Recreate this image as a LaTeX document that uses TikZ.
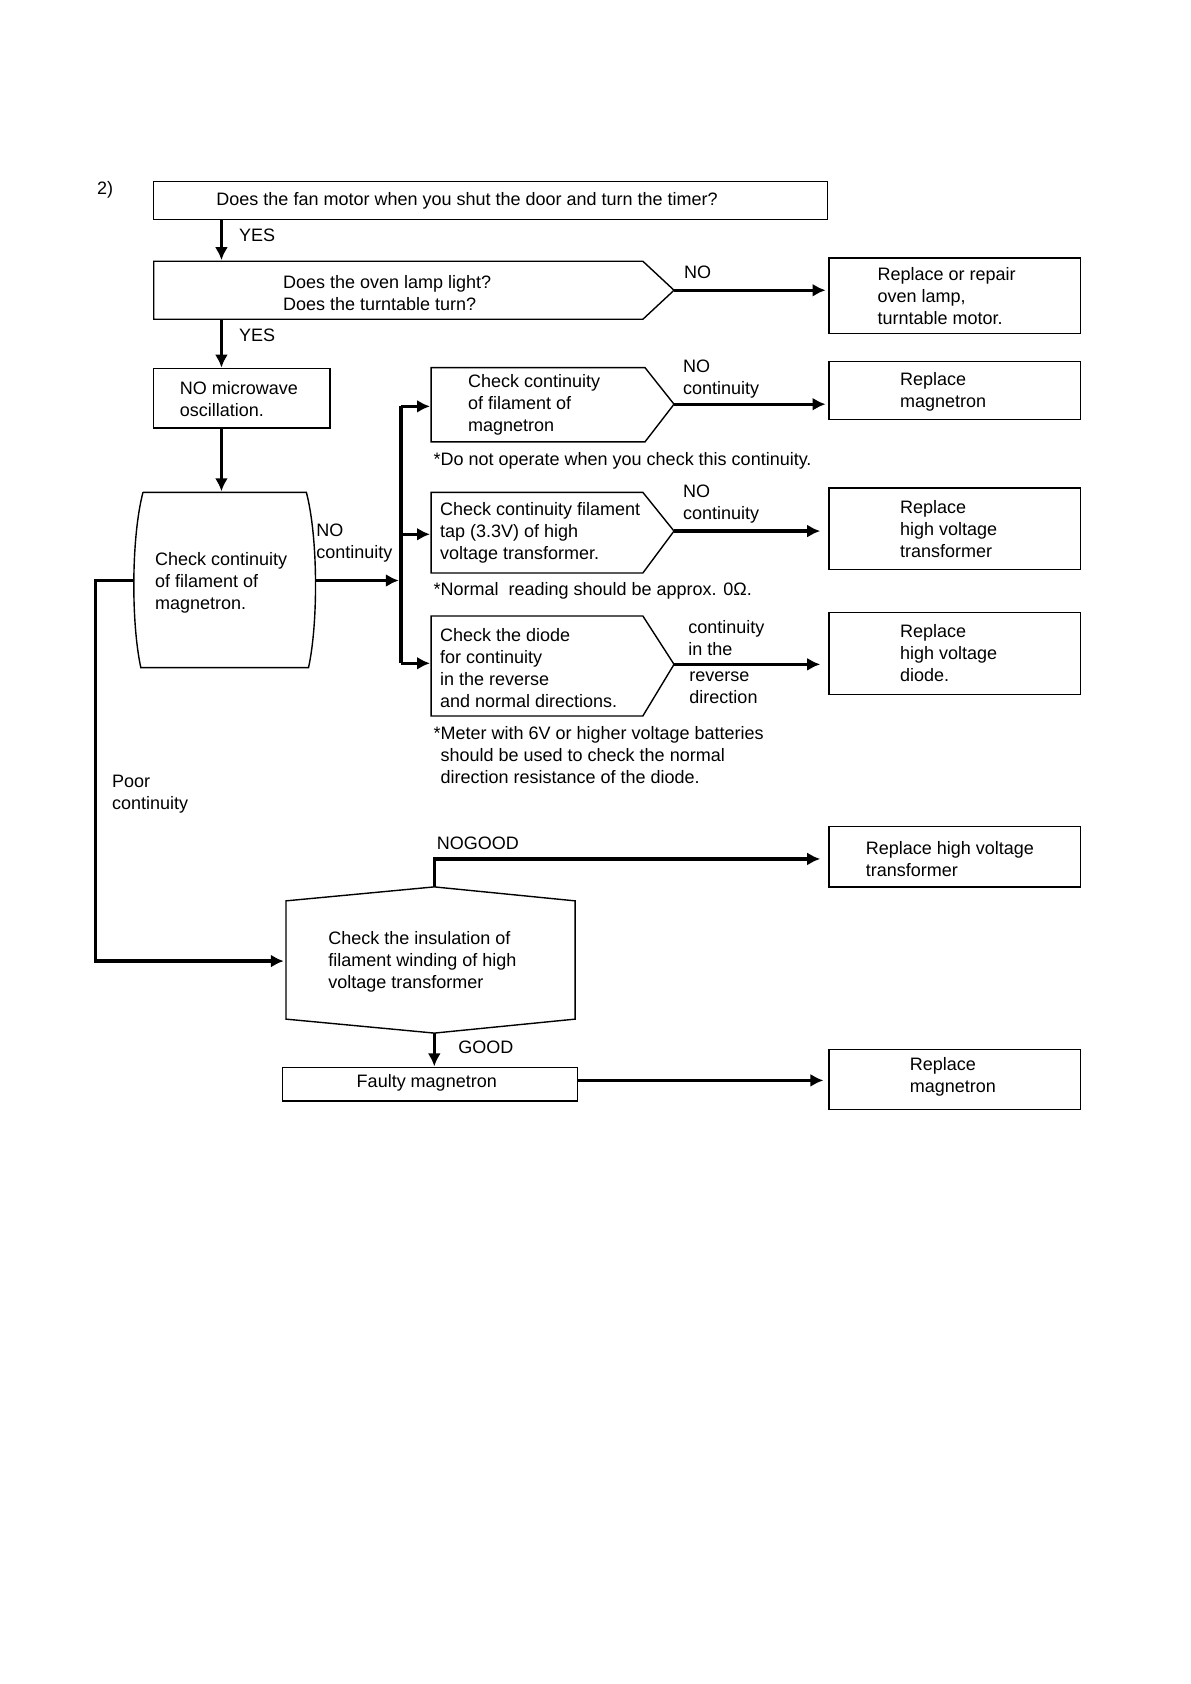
\documentclass[tikz,border=0pt]{standalone}
\usepackage{fontspec}
\setmainfont{Liberation Sans}
\usetikzlibrary{arrows.meta,calc}

\begin{document}
\begin{tikzpicture}[x=0.5375pt,y=-0.5375pt]
\tikzstyle{box} = [draw, line width=0.7pt]
\tikzstyle{txt} = [inner sep=0pt, anchor=west, align=left, font=\fontsize{9}{11}\selectfont]
\tikzstyle{arr} = [line width=1.6pt, -{Latex[length=6.5pt,width=6.5pt]}]
\useasboundingbox (0,0) rectangle (1107,1566.5);

\node[txt] (num) at (90,177) {2)};

% question boxes on the left
\draw[box] (143,169) rectangle (770,204);
\node[txt] (fan) at (201,187) {Does the fan motor when you shut the door and turn the timer?};
\draw[box] (143,243) -- (598,243) -- (627,270) -- (598,297) -- (143,297) -- cycle;
\node[txt] (lamp) at (263,272.5) {Does the oven lamp light?\\Does the turntable turn?};
\draw[box] (143,343) rectangle (307,398);
\node[txt] (nomw) at (167,371) {NO microwave\\oscillation.};
\draw[box] (133,458) -- (285,458) .. controls (296,500) and (296,580) .. (287,621)
  -- (131,621) .. controls (122,580) and (122,500) .. (133,458);
\node[txt] (fil) at (144,542) {Check continuity\\of filament of\\magnetron.};

\coordinate (fans) at (206,204);
\coordinate (lampn) at (206,242);
\coordinate (lamps) at (206,297);
\coordinate (nomwn) at (206,342);
\coordinate (nomws) at (206,398);
\coordinate (filn) at (206,457);
\coordinate (lampe) at (627,270);
\coordinate (filw) at (124,540);
\coordinate (file) at (294,540);

% three checks in the middle
\draw[box] (401,342) -- (600,342) -- (627,376) -- (600,411) -- (401,411) -- cycle;
\node[txt] (chka) at (435,376.5) {Check continuity\\of filament of\\magnetron};
\draw[box] (401,458) -- (598,458) -- (627,494) -- (598,533) -- (401,533) -- cycle;
\node[txt] (chkb) at (409,495.5) {Check continuity filament\\tap (3.3V) of high\\voltage transformer.};
\draw[box] (401,573) -- (598,573) -- (627,618) -- (598,666) -- (401,666) -- cycle;
\node[txt] (chkc) at (409,621) {Check the diode\\for continuity\\in the reverse\\and normal directions.};
\coordinate (chkae) at (627,376);
\coordinate (chkbe) at (627,494);
\coordinate (chkce) at (627,618);

\node[txt] (nota) at (403,429) {*Do not operate when you check this continuity.};
\node[txt] (notb) at (403,550) {*Normal\ \ reading should be approx. 0Ω.};
\node[txt] (notc) at (403,702.5) {*Meter with 6V or higher voltage batteries\\\phantom{*}should be used to check the normal\\\phantom{*}direction resistance of the diode.};

% lower checks
\draw[box] (266,838) -- (404,825) -- (535,838) -- (535,948) -- (404,961) -- (266,948) -- cycle;
\node[txt] (ins) at (305,894.5) {Check the insulation of\\filament winding of high\\voltage transformer};
\draw[box] (263,993) rectangle (537,1024);
\node[txt, anchor=center] (faulty) at (397,1007) {Faulty magnetron};
\coordinate (insn) at (404,825);
\coordinate (inss) at (404,961);
\coordinate (insw) at (264,894);
\coordinate (faultyn) at (404,992);
\coordinate (faultye) at (537,1005);

% replace boxes on the right
\draw[box] (771,240) rectangle (1005,310);
\node[txt] (rlamp) at (816,275.5) {Replace or repair\\oven lamp,\\turntable motor.};
\draw[box] (771,336) rectangle (1005,390);
\node[txt] (rmag) at (837,364.5) {Replace\\magnetron};
\draw[box] (771,454) rectangle (1005,530);
\node[txt] (rhvt) at (837,492) {Replace\\high voltage\\transformer};
\draw[box] (771,570) rectangle (1005,646);
\node[txt] (rdio) at (837,607.5) {Replace\\high voltage\\diode.};
\draw[box] (771,769) rectangle (1005,825);
\node[txt] (rins) at (805,799) {Replace high voltage\\transformer};
\draw[box] (771,976) rectangle (1005,1032);
\node[txt] (rfau) at (846,1002) {Replace\\magnetron};

% connectors
\draw[arr] (fans) -- (lampn);
\draw[arr] (lamps) -- (nomwn);
\draw[arr] (nomws) -- (filn);
\draw[arr] (lampe) -- (768,270);
\draw[arr] (file) -- (371,540);
\draw[line width=1.6pt] (373,378) -- (373,617);
\draw[arr] (373,378) -- (400,378);
\draw[arr] (373,497) -- (400,497);
\draw[arr] (373,617) -- (400,617);
\draw[arr] (chkae) -- (768,376);
\draw[arr] (chkbe) -- (763,494);
\draw[arr] (chkce) -- (763,618);
\draw[arr] (filw) -- (89,540) |- (insw);
\draw[arr] (insn) |- (763,799);
\draw[arr] (inss) -- (faultyn);
\draw[arr] (faultye) -- (766,1005);

% labels
\node[txt] (yesa) at (222,219) {YES};
\node[txt] (yesb) at (222,312) {YES};
\node[txt] (noa) at (636,253) {NO};
\node[txt] (nob) at (294,505.5) {NO\\continuity};
\node[txt] (noc) at (635,352.5) {NO\\continuity};
\node[txt] (nod) at (635,468.5) {NO\\continuity};
\node[txt] (cont) at (640,593.5) {continuity\\in the};
\node[txt] (rev) at (641,640) {reverse\\direction};
\node[txt] (poor) at (104,738.5) {Poor\\continuity};
\node[txt] (nogood) at (406,784) {NOGOOD};
\node[txt] (good) at (426,974) {GOOD};
\end{tikzpicture}
\end{document}
